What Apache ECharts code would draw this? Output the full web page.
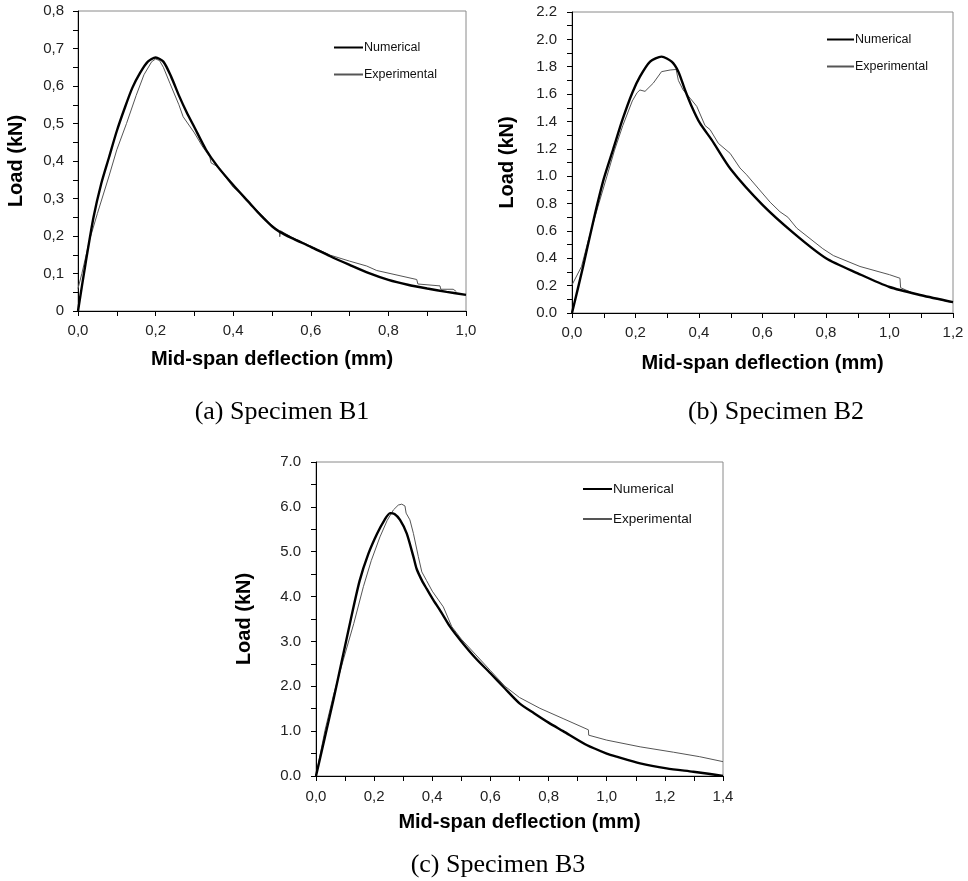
<!DOCTYPE html>
<html>
<head>
<meta charset="utf-8">
<script src="https://cdn.jsdelivr.net/npm/echarts@6/dist/echarts.min.js"></script>
<style>
html,body{margin:0;padding:0;background:#fff;}
#chart{width:968px;height:881px;}
</style>
</head>
<body>
<div id="chart"></div>
<script>
// ---- Specimen B1 ----
var b1NumX = [0, 0.02, 0.04, 0.06, 0.08, 0.10, 0.12, 0.14, 0.16, 0.18, 0.20, 0.22, 0.24, 0.26, 0.28, 0.30, 0.33, 0.36, 0.40, 0.443, 0.47, 0.50, 0.52, 0.55, 0.60, 0.65, 0.70, 0.75, 0.80, 0.85, 0.90, 0.95, 1.0];
var b1NumY = [0, 0.13, 0.25, 0.34, 0.41, 0.48, 0.54, 0.595, 0.635, 0.665, 0.676, 0.665, 0.625, 0.575, 0.53, 0.49, 0.43, 0.385, 0.336, 0.287, 0.256, 0.226, 0.211, 0.195, 0.171, 0.146, 0.123, 0.101, 0.083, 0.070, 0.060, 0.051, 0.043];
var b1ExpX = [0, 0.01, 0.03, 0.05, 0.08, 0.10, 0.125, 0.15, 0.17, 0.19, 0.20, 0.21, 0.22, 0.237, 0.26, 0.271, 0.30, 0.32, 0.34, 0.343, 0.36, 0.40, 0.42, 0.45, 0.48, 0.50, 0.519, 0.52, 0.522, 0.55, 0.60, 0.65, 0.70, 0.744, 0.77, 0.873, 0.876, 0.933, 0.935, 0.967, 0.975];
var b1ExpY = [0.06, 0.10, 0.19, 0.26, 0.36, 0.43, 0.50, 0.575, 0.63, 0.665, 0.672, 0.668, 0.65, 0.607, 0.55, 0.518, 0.475, 0.44, 0.41, 0.395, 0.385, 0.33, 0.312, 0.28, 0.25, 0.228, 0.212, 0.198, 0.214, 0.197, 0.173, 0.149, 0.133, 0.12, 0.108, 0.084, 0.072, 0.067, 0.058, 0.058, 0.052];

// ---- Specimen B2 ----
var b2NumX = [0, 0.035, 0.07, 0.10, 0.13, 0.16, 0.19, 0.214, 0.246, 0.282, 0.314, 0.335, 0.356, 0.377, 0.403, 0.44, 0.50, 0.60, 0.70, 0.80, 0.90, 1.0, 1.1, 1.2];
var b2NumY = [0, 0.34, 0.70, 0.98, 1.20, 1.42, 1.61, 1.727, 1.837, 1.874, 1.837, 1.764, 1.63, 1.51, 1.387, 1.265, 1.05, 0.79, 0.58, 0.40, 0.29, 0.19, 0.13, 0.08];
var b2ExpX = [0, 0.03, 0.05, 0.082, 0.11, 0.134, 0.16, 0.19, 0.205, 0.214, 0.23, 0.256, 0.282, 0.309, 0.328, 0.335, 0.35, 0.372, 0.393, 0.419, 0.435, 0.461, 0.498, 0.529, 0.55, 0.624, 0.655, 0.68, 0.708, 0.79, 0.823, 0.907, 1.0, 1.033, 1.035, 1.075, 1.2];
var b2ExpY = [0.205, 0.34, 0.52, 0.78, 1.00, 1.19, 1.37, 1.55, 1.61, 1.63, 1.62, 1.68, 1.764, 1.776, 1.78, 1.70, 1.63, 1.57, 1.51, 1.37, 1.34, 1.24, 1.167, 1.06, 1.01, 0.81, 0.74, 0.70, 0.62, 0.47, 0.42, 0.34, 0.28, 0.254, 0.185, 0.144, 0.075];

// ---- Specimen B3 ----
var b3NumX = [0, 0.03, 0.06, 0.09, 0.12, 0.15, 0.18, 0.21, 0.235, 0.255, 0.27, 0.289, 0.312, 0.335, 0.346, 0.365, 0.381, 0.40, 0.43, 0.461, 0.50, 0.55, 0.60, 0.65, 0.70, 0.75, 0.80, 0.85, 0.931, 1.0, 1.034, 1.115, 1.206, 1.298, 1.35, 1.4];
var b3NumY = [0, 0.85, 1.7, 2.6, 3.5, 4.35, 4.95, 5.4, 5.7, 5.86, 5.84, 5.71, 5.41, 4.89, 4.62, 4.35, 4.17, 3.96, 3.66, 3.33, 3.0, 2.62, 2.29, 1.95, 1.62, 1.40, 1.19, 1.0, 0.69, 0.50, 0.43, 0.28, 0.17, 0.096, 0.05, 0.0];
var b3ExpX = [0, 0.015, 0.031, 0.06, 0.094, 0.13, 0.163, 0.19, 0.22, 0.245, 0.266, 0.283, 0.295, 0.306, 0.31, 0.323, 0.335, 0.352, 0.364, 0.38, 0.40, 0.438, 0.467, 0.50, 0.55, 0.60, 0.65, 0.70, 0.77, 0.85, 0.937, 0.938, 1.0, 1.115, 1.23, 1.32, 1.40];
var b3ExpY = [0, 0.5, 1.02, 1.8, 2.59, 3.4, 4.22, 4.8, 5.33, 5.7, 5.93, 6.04, 6.06, 6.02, 5.86, 5.71, 5.41, 4.89, 4.55, 4.36, 4.12, 3.77, 3.33, 3.05, 2.7, 2.35, 2.0, 1.75, 1.51, 1.28, 1.03, 0.91, 0.80, 0.65, 0.53, 0.43, 0.32];

// ---- labels ----
var seriesNames = ['Numerical', 'Experimental'];
var captions = ['(a) Specimen B1', '(b) Specimen B2', '(c) Specimen B3'];
var xTitle = 'Mid-span deflection (mm)';
var yTitle = 'Load (kN)';
var xMax = [1.0, 1.2, 1.4];
var yMax = [0.8, 2.2, 7.0];
var yStep = [0.1, 0.2, 1.0];

function zip(xs, ys) { return xs.map(function (x, i) { return [x, ys[i]]; }); }

var SANS = '"Liberation Sans", Arial, sans-serif';
var SERIF = '"Liberation Serif", "Times New Roman", serif';

var grids = [
  {left: 78, top: 11, width: 388, height: 300},
  {left: 572, top: 12, width: 381, height: 301},
  {left: 316, top: 462, width: 407, height: 314}
];
var yGaps = [52, 55, 62];
var xGaps = [38, 40, 36];
var xMargins = [12, 12, 13];
var yMargins = [14, 15, 15];
var yFmt = [
  function (v) { return v === 0 ? '0' : v.toFixed(1).replace('.', ','); },
  function (v) { return v.toFixed(1); },
  function (v) { return v.toFixed(1); }
];

var xAxes = [], yAxes = [];
for (var i = 0; i < 3; i++) {
  grids[i].show = true;
  grids[i].borderColor = '#8a8a8a';
  grids[i].borderWidth = 1;
  grids[i].containLabel = false;
  grids[i].outerBoundsMode = 'none';
  xAxes.push({
    type: 'value', gridIndex: i, min: 0, max: xMax[i], interval: 0.2,
    name: xTitle, nameLocation: 'middle', nameGap: xGaps[i],
    nameTextStyle: {fontFamily: SANS, fontWeight: 'bold', fontSize: 20, color: '#000'},
    axisLine: {show: true, lineStyle: {color: '#000', width: 1}},
    axisTick: {show: true, length: 5, lineStyle: {color: '#000'}},
    minorTick: {show: true, splitNumber: 2, length: 5, lineStyle: {color: '#000'}},
    splitLine: {show: false},
    axisLabel: {fontFamily: SANS, fontSize: 15, color: '#222', margin: xMargins[i],
      formatter: function (v) { return v.toFixed(1).replace('.', ','); }}
  });
  yAxes.push({
    type: 'value', gridIndex: i, min: 0, max: yMax[i], interval: yStep[i],
    name: yTitle, nameLocation: 'middle', nameGap: yGaps[i], nameRotate: 90,
    nameTextStyle: {fontFamily: SANS, fontWeight: 'bold', fontSize: 20, color: '#000'},
    axisLine: {show: true, lineStyle: {color: '#000', width: 1}},
    axisTick: {show: true, length: 5, lineStyle: {color: '#000'}},
    minorTick: {show: true, splitNumber: 2, length: 5, lineStyle: {color: '#000'}},
    splitLine: {show: false},
    axisLabel: {fontFamily: SANS, fontSize: 15, color: '#222', margin: yMargins[i], formatter: yFmt[i]}
  });
}

var HIDDEN = 'rgba(0,0,0,0)';
function numSeries(idx, data) {
  return {name: seriesNames[0], type: 'line', xAxisIndex: idx, yAxisIndex: idx, data: data,
    symbol: 'none', showSymbol: false, smooth: 0.25, z: 3,
    lineStyle: {color: '#000', width: 2.4}, itemStyle: {color: HIDDEN, borderColor: HIDDEN, borderWidth: 0}};
}
function expSeries(idx, data) {
  return {name: seriesNames[1], type: 'line', xAxisIndex: idx, yAxisIndex: idx, data: data,
    symbol: 'none', showSymbol: false, smooth: false, z: 2,
    lineStyle: {color: '#555', width: 1}, itemStyle: {color: HIDDEN, borderColor: HIDDEN, borderWidth: 0}};
}

var legendPos = [
  {left: 333, top: 41, gap: 14, fs: 12.5, w: 29},
  {left: 826, top: 33, gap: 14, fs: 12.5, w: 27},
  {left: 582, top: 482, gap: 16, fs: 13.5, w: 29}
];
var legends = legendPos.map(function (p) {
  return {show: true, orient: 'vertical', left: p.left, top: p.top, padding: 0,
    itemWidth: p.w, itemHeight: 14, itemGap: p.gap, selectedMode: false,
    itemStyle: {color: HIDDEN, borderColor: HIDDEN, borderWidth: 0},
    textStyle: {fontFamily: SANS, fontSize: p.fs, color: '#111', padding: [0, 0, 0, -4]},
    data: seriesNames};
});

var captionPos = [[282, 412], [776, 412], [498, 865]];
var graphics = captions.map(function (t, i) {
  return {type: 'text', x: captionPos[i][0], y: captionPos[i][1],
    style: {text: t, font: '26px ' + SERIF, fill: '#000', align: 'center', verticalAlign: 'middle'}};
});

var chart = echarts.init(document.getElementById('chart'), null, {renderer: 'canvas'});
chart.setOption({
  animation: false,
  backgroundColor: '#fff',
  grid: grids,
  xAxis: xAxes,
  yAxis: yAxes,
  legend: legends,
  graphic: graphics,
  series: [
    numSeries(0, zip(b1NumX, b1NumY)), expSeries(0, zip(b1ExpX, b1ExpY)),
    numSeries(1, zip(b2NumX, b2NumY)), expSeries(1, zip(b2ExpX, b2ExpY)),
    numSeries(2, zip(b3NumX, b3NumY)), expSeries(2, zip(b3ExpX, b3ExpY))
  ]
});
</script>
</body>
</html>
